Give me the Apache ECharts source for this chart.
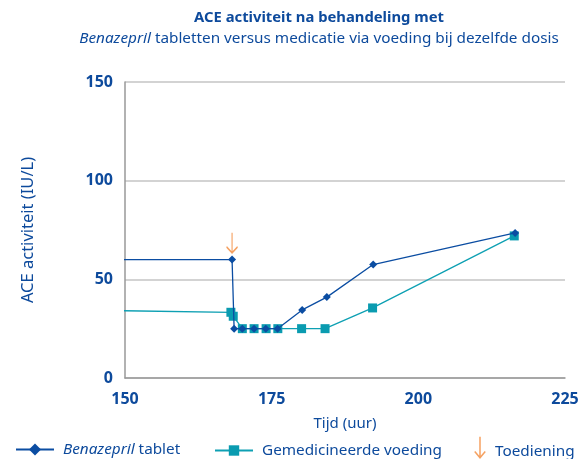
<!DOCTYPE html>
<html><head><meta charset="utf-8">
<script src="https://cdn.jsdelivr.net/npm/echarts@6/dist/echarts.min.js"></script>
<style>html,body{margin:0;padding:0;background:#fff}#c{width:588px;height:459px}</style>
</head><body><div id="c"></div>
<script>
// Data (time in hours, ACE activity in IU/L)
const benazeprilTime  = [140, 168.25, 168.6, 170, 172, 174, 176, 180.2, 184.4, 192.3, 216.5];
const benazeprilValue = [60, 60, 25, 25, 25, 25, 25, 34.5, 41, 57.5, 73.5];
const voedingTime     = [140, 168.05, 168.45, 170, 172, 174.05, 176.05, 180.1, 184.1, 192.2, 216.35];
const voedingValue    = [34.5, 33.3, 31.3, 25, 25, 25, 25, 25, 25, 35.5, 72];
const toedieningTime  = [168.25];
const toedieningValue = [68.5];
const yTicks = [0, 50, 100, 150];
const xTicks = [150, 175, 200, 225];

const dark = '#0d4a9c';
const blue = '#0b4da2';
const teal = '#0ea0b3';
const orange = '#f2893a';
const font = 'Noto Sans';

const pair = (xs, ys) => xs.map((x, i) => [x, ys[i]]);
const arrowPath = 'path://M5,0 L5,20 M0,14 L5,20 L10,14';

const legendText = {fontFamily: font, fontSize: 15.3, color: dark, padding: [0, 0, 0, 4],
  rich: {i: {fontFamily: font, fontSize: 15.3, fontStyle: 'italic', color: dark}}};

const chart = echarts.init(document.getElementById('c'), null, {renderer: 'canvas'});
chart.setOption({
  animation: false,
  textStyle: {fontFamily: font},
  title: {
    text: 'ACE activiteit na behandeling met',
    subtext: '{i|Benazepril} tabletten versus medicatie via voeding bij dezelfde dosis',
    left: 314, textAlign: 'center', top: 5, itemGap: 6,
    textStyle: {fontFamily: font, fontSize: 14.8, fontWeight: 'bold', color: dark},
    subtextStyle: {fontFamily: font, fontSize: 15.3, color: dark,
      rich: {i: {fontFamily: font, fontSize: 15.3, fontStyle: 'italic', color: dark}}}
  },
  grid: {left: 125, right: 23, top: 82, bottom: 81, containLabel: false},
  xAxis: {
    type: 'value', min: 150, max: 225, interval: 25,
    name: 'Tijd (uur)', nameLocation: 'middle', nameGap: 38,
    nameTextStyle: {fontFamily: font, fontSize: 15, color: dark},
    axisLine: {show: true, lineStyle: {color: '#999', width: 1.5}},
    axisTick: {show: false},
    splitLine: {show: false},
    axisLabel: {fontFamily: font, fontSize: 16, fontWeight: 'bold', color: dark, margin: 13,
      formatter: v => xTicks.includes(v) ? String(v) : ''}
  },
  yAxis: {
    type: 'value', min: 0, max: 150, interval: 50,
    name: 'ACE activiteit (IU/L)', nameLocation: 'middle', nameGap: 88,
    nameTextStyle: {fontFamily: font, fontSize: 16.5, color: dark},
    axisLine: {show: true, lineStyle: {color: '#999', width: 1.5}},
    axisTick: {show: false},
    splitLine: {show: true, lineStyle: {color: '#c4c4c4', width: 1.5}},
    axisLabel: {fontFamily: font, fontSize: 16, fontWeight: 'bold', color: dark, margin: 12,
      formatter: v => yTicks.includes(v) ? String(v) : ''}
  },
  legend: [
    {left: 15, top: 442, padding: 0, itemWidth: 38, itemHeight: 15, textStyle: legendText,
      formatter: '{i|Benazepril} tablet', data: ['Benazepril tablet']},
    {left: 214, top: 443, padding: 0, itemWidth: 38, itemHeight: 13, textStyle: legendText,
      data: ['Gemedicineerde voeding']},
    {left: 474, top: 436, padding: 0, itemWidth: 12, itemHeight: 21,
      textStyle: Object.assign({}, legendText, {padding: [9, 0, 0, 4]}),
      data: [{name: 'Toediening', icon: arrowPath,
        itemStyle: {color: 'transparent', borderColor: orange, borderWidth: 1.5}}]}
  ],
  series: [
    {
      name: 'Gemedicineerde voeding', type: 'line', clip: true,
      data: pair(voedingTime, voedingValue),
      symbol: 'rect', symbolSize: 9, showAllSymbol: true,
      lineStyle: {color: teal, width: 1.3},
      itemStyle: {color: '#0a9bb0'},
      z: 2
    },
    {
      name: 'Benazepril tablet', type: 'line', clip: true,
      data: pair(benazeprilTime, benazeprilValue),
      symbol: 'diamond', symbolSize: 8, showAllSymbol: true,
      lineStyle: {color: blue, width: 1.3},
      itemStyle: {color: blue},
      z: 3
    },
    {
      name: 'Toediening', type: 'scatter',
      data: pair(toedieningTime, toedieningValue),
      symbol: arrowPath, symbolSize: [11, 20],
      itemStyle: {color: 'transparent', borderColor: orange, borderWidth: 1.5},
      z: 4
    }
  ]
});
</script></body></html>
